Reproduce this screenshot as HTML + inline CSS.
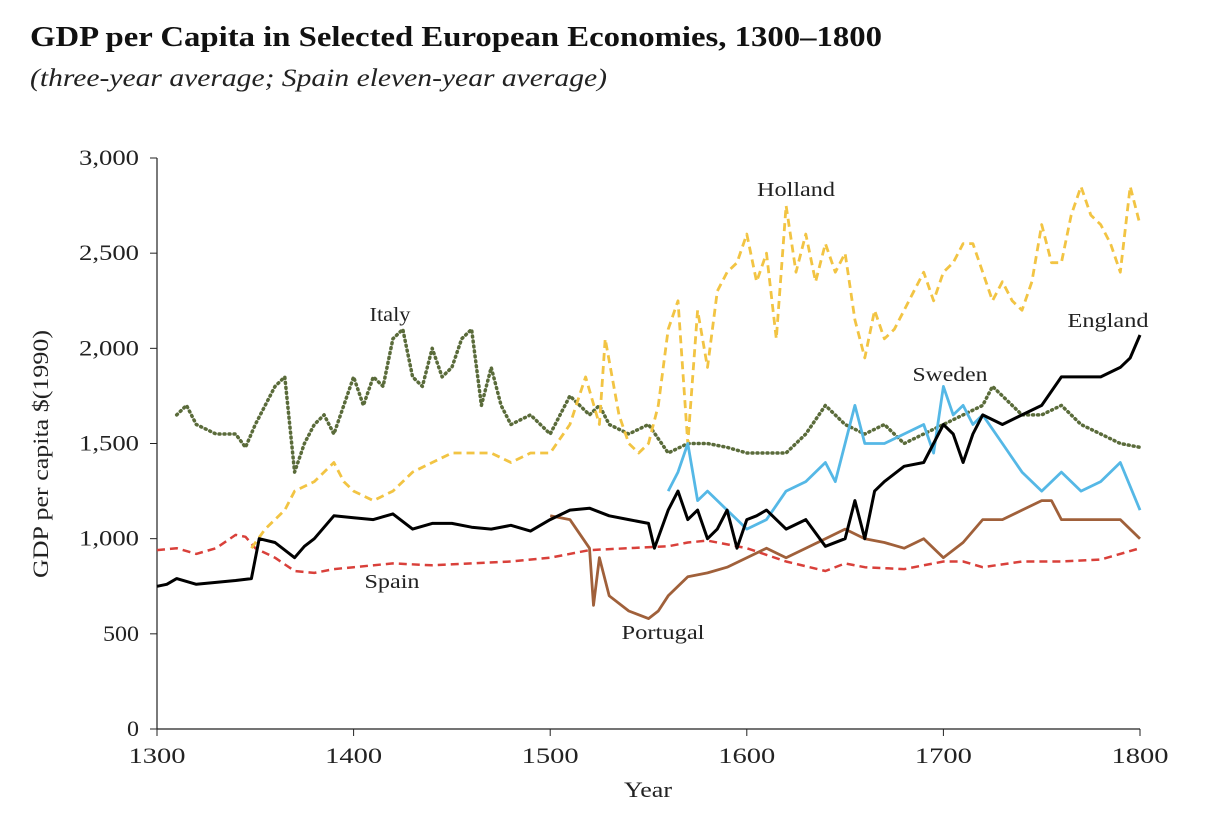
<!DOCTYPE html>
<html><head><meta charset="utf-8"><style>
body{margin:0;background:#fff;width:1206px;height:818px;overflow:hidden;font-family:"Liberation Serif",serif;}
svg text{font-family:"Liberation Serif",serif;}
</style></head><body>
<svg id="chart" width="1206" height="818">
<text x="30" y="46" font-size="29" font-weight="bold" fill="#111" textLength="852" lengthAdjust="spacingAndGlyphs">GDP per Capita in Selected European Economies, 1300–1800</text>
<text x="30" y="86" font-size="25" font-style="italic" fill="#222" textLength="577" lengthAdjust="spacingAndGlyphs">(three-year average; Spain eleven-year average)</text>
<text transform="translate(48,454) rotate(-90)" text-anchor="middle" font-size="22" fill="#222" textLength="248" lengthAdjust="spacingAndGlyphs">GDP per capita $(1990)</text>
<text x="648" y="797" text-anchor="middle" font-size="22" fill="#222" textLength="48" lengthAdjust="spacingAndGlyphs">Year</text>
<g id="axes"></g>
<g id="series"></g>
<g id="labels"></g>
</svg>
<script>
const yTicks=[0,500,1000,1500,2000,2500,3000];
const xTicks=[1300,1400,1500,1600,1700,1800];
const englandYears=[1300,1305,1310,1320,1330,1340,1348,1352,1360,1370,1375,1380,1390,1400,1410,1420,1430,1440,1450,1460,1470,1480,1490,1500,1510,1520,1530,1540,1550,1553,1560,1565,1570,1575,1580,1585,1590,1595,1600,1605,1610,1620,1630,1640,1650,1655,1660,1665,1670,1680,1690,1700,1705,1710,1715,1720,1730,1740,1750,1760,1770,1780,1790,1795,1800];
const englandValues=[750,760,790,760,770,780,790,1000,980,900,960,1000,1120,1110,1100,1130,1050,1080,1080,1060,1050,1070,1040,1100,1150,1160,1120,1100,1080,950,1150,1250,1100,1150,1000,1050,1150,950,1100,1120,1150,1050,1100,960,1000,1200,1000,1250,1300,1380,1400,1600,1550,1400,1550,1650,1600,1650,1700,1850,1850,1850,1900,1950,2070];
const hollandYears=[1348,1355,1365,1370,1380,1390,1395,1400,1410,1420,1430,1440,1450,1460,1470,1480,1490,1500,1510,1518,1525,1528,1535,1540,1545,1550,1555,1560,1565,1570,1575,1580,1585,1590,1595,1600,1605,1610,1615,1620,1625,1630,1635,1640,1645,1650,1655,1660,1665,1670,1675,1680,1685,1690,1695,1700,1705,1710,1715,1720,1725,1730,1735,1740,1745,1750,1755,1760,1765,1770,1775,1780,1785,1790,1795,1800];
const hollandValues=[950,1050,1150,1250,1300,1400,1300,1250,1200,1250,1350,1400,1450,1450,1450,1400,1450,1450,1600,1850,1600,2050,1650,1500,1450,1500,1700,2100,2250,1500,2200,1900,2300,2400,2450,2600,2350,2500,2050,2750,2400,2600,2350,2550,2400,2500,2150,1950,2200,2050,2100,2200,2300,2400,2250,2400,2450,2550,2550,2400,2250,2350,2250,2200,2350,2650,2450,2450,2700,2850,2700,2650,2550,2400,2850,2650];
const italyYears=[1310,1315,1320,1330,1340,1345,1350,1360,1365,1370,1375,1380,1385,1390,1395,1400,1405,1410,1415,1420,1425,1430,1435,1440,1445,1450,1455,1460,1465,1470,1475,1480,1490,1500,1510,1515,1520,1525,1530,1540,1550,1560,1570,1580,1590,1600,1610,1620,1630,1640,1650,1660,1670,1680,1690,1700,1710,1720,1725,1730,1740,1750,1760,1770,1780,1790,1800];
const italyValues=[1650,1700,1600,1550,1550,1480,1600,1800,1850,1350,1500,1600,1650,1550,1700,1850,1700,1850,1800,2050,2100,1850,1800,2000,1850,1900,2050,2100,1700,1900,1700,1600,1650,1550,1750,1700,1650,1700,1600,1550,1600,1450,1500,1500,1480,1450,1450,1450,1550,1700,1600,1550,1600,1500,1550,1600,1650,1700,1800,1750,1650,1650,1700,1600,1550,1500,1480];
const spainYears=[1300,1310,1320,1330,1340,1345,1350,1360,1370,1380,1390,1400,1420,1440,1460,1480,1500,1520,1540,1560,1570,1580,1600,1620,1640,1650,1660,1680,1700,1710,1720,1740,1760,1780,1800];
const spainValues=[940,950,920,950,1020,1010,950,900,830,820,840,850,870,860,870,880,900,940,950,960,980,990,950,880,830,870,850,840,880,880,850,880,880,890,950];
const portugalYears=[1500,1510,1520,1522,1525,1530,1540,1550,1555,1560,1570,1580,1590,1600,1610,1620,1630,1640,1650,1660,1670,1680,1690,1700,1710,1720,1730,1740,1750,1755,1760,1780,1790,1800];
const portugalValues=[1120,1100,950,650,900,700,620,580,620,700,800,820,850,900,950,900,950,1000,1050,1000,980,950,1000,900,980,1100,1100,1150,1200,1200,1100,1100,1100,1000];
const swedenYears=[1560,1565,1570,1575,1580,1590,1595,1600,1610,1620,1630,1640,1645,1650,1655,1660,1670,1680,1690,1695,1700,1705,1710,1715,1720,1730,1740,1750,1760,1770,1780,1790,1800];
const swedenValues=[1250,1350,1500,1200,1250,1150,1100,1050,1100,1250,1300,1400,1300,1500,1700,1500,1500,1550,1600,1450,1800,1650,1700,1600,1650,1500,1350,1250,1350,1250,1300,1400,1150];
const NS='http://www.w3.org/2000/svg';
const X=v=>157+(v-1300)*(1140-157)/500;
const Y=v=>729-v*(729-158)/3000;
function mk(tag,attrs,parent){const e=document.createElementNS(NS,tag);for(const k in attrs)e.setAttribute(k,attrs[k]);parent.appendChild(e);return e;}
const axes=document.getElementById('axes');
let a=mk('line',{x1:157,y1:158,x2:157,y2:729,stroke:'#222','stroke-width':1.2},axes);


a=mk('line',{x1:157,y1:729,x2:1140,y2:729,stroke:'#222','stroke-width':1.2},axes);


yTicks.forEach(t=>{mk('line',{x1:150,y1:Y(t),x2:157,y2:Y(t),stroke:'#222'},axes);
const s=t.toLocaleString('en-US');
const tx=mk('text',{x:139,y:Y(t)+7,'text-anchor':'end','font-size':22,fill:'#222',textLength:s.length*12,lengthAdjust:'spacingAndGlyphs'},axes);tx.textContent=s;

});
xTicks.forEach(t=>{mk('line',{x1:X(t),y1:729,x2:X(t),y2:736,stroke:'#222'},axes);
const tx=mk('text',{x:X(t),y:763,'text-anchor':'middle','font-size':22,fill:'#222',textLength:57,lengthAdjust:'spacingAndGlyphs'},axes);tx.textContent=t;

});
const sg=document.getElementById('series');
function line(xs,vs,color,dash,w,name){const d=xs.map((x,i)=>(i?'L':'M')+X(x).toFixed(1)+','+Y(vs[i]).toFixed(1)).join('');
const p=mk('path',{d:d,fill:'none',stroke:color,'stroke-width':w,'stroke-dasharray':dash,'stroke-linejoin':'round','stroke-linecap':dash==='1 4'?'round':'butt'},sg);

}
line(spainYears,spainValues,'#d9403a','8 5',2.5,'spain-line');
line(italyYears,italyValues,'#5a6b3a','1 4',3.5,'italy-line');
line(hollandYears,hollandValues,'#f2c443','8 5',2.8,'holland-line');
line(portugalYears,portugalValues,'#a0603a','',2.8,'portugal-line');
line(swedenYears,swedenValues,'#55b8e6','',2.8,'sweden-line');
line(englandYears,englandValues,'#000','',3,'england-line');
const lg=document.getElementById('labels');
[['Holland',796,196,'holland-label',78],['Italy',390,321,'italy-label',41],['England',1108,327,'england-label',81],['Sweden',950,381,'sweden-label',75],['Spain',392,588,'spain-label',55],['Portugal',663,639,'portugal-label',83]].forEach(l=>{
const t=mk('text',{x:l[1],y:l[2],'text-anchor':'middle','font-size':20,fill:'#222',textLength:l[4],lengthAdjust:'spacingAndGlyphs'},lg);t.textContent=l[0];

});
</script>
</body></html>
